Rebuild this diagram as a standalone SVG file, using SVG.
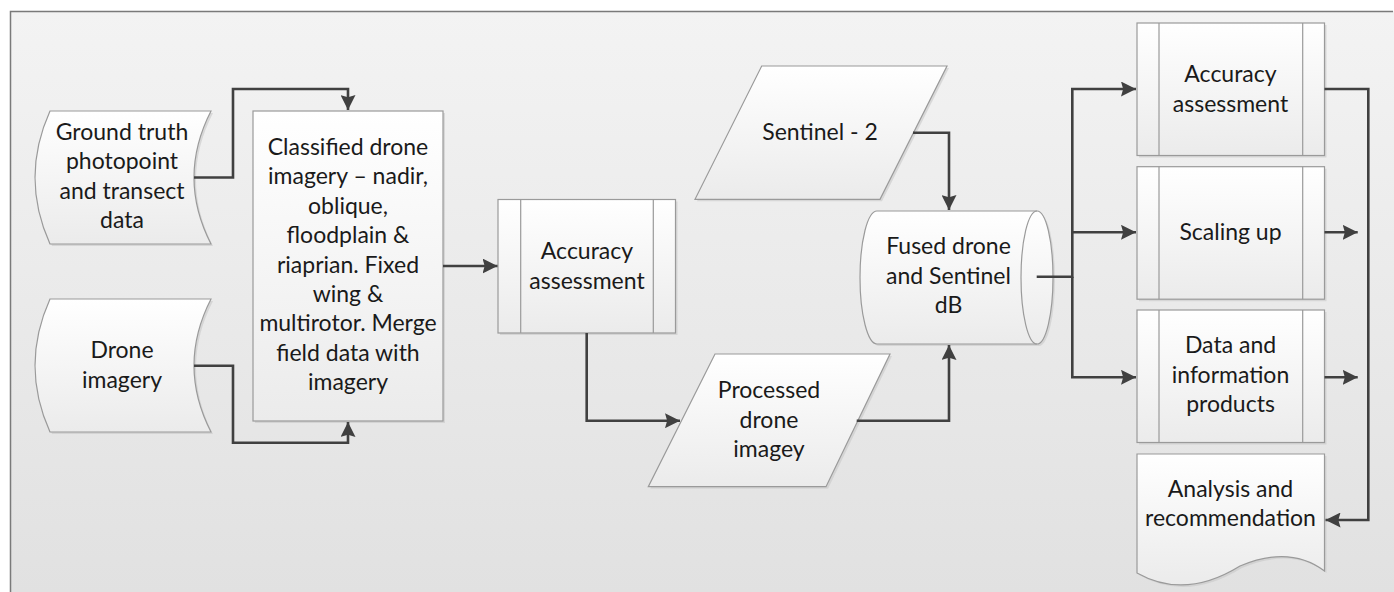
<svg xmlns="http://www.w3.org/2000/svg" width="1394" height="592" viewBox="0 0 1394 592">
<defs>
<linearGradient id="bg" x1="0" y1="0" x2="0" y2="1">
<stop offset="0" stop-color="#f3f3f3"/>
<stop offset="1" stop-color="#e1e1e1"/>
</linearGradient>
<linearGradient id="sf" x1="0" y1="0" x2="0" y2="1">
<stop offset="0" stop-color="#ffffff"/>
<stop offset="1" stop-color="#ebebeb"/>
</linearGradient>
<marker id="ah" viewBox="0 0 14 14" refX="14" refY="7" markerWidth="15" markerHeight="15" markerUnits="userSpaceOnUse" orient="auto">
<path d="M0,0 L14,7 L0,14 L2,7 Z" fill="#404040"/>
</marker>
</defs>
<style>
.shape{fill:url(#sf);stroke:#9a9a9a;stroke-width:1.2}
.shadow{fill:#c8c8c8;opacity:0.6}
.inner{fill:none;stroke:#9a9a9a;stroke-width:1.2}
.lbl{font-family:Lato,"Liberation Sans",sans-serif;font-size:23px;fill:#1a1a1a;text-anchor:middle}
.conn{fill:none;stroke:#404040;stroke-width:2.6;marker-end:url(#ah)}
</style>
<rect x="0" y="0" width="1394" height="592" fill="#ffffff"/>
<rect x="10" y="11" width="1384" height="581" fill="url(#bg)"/>
<path d="M10.5,592 V11.5 H1393" fill="none" stroke="#7a7a7a" stroke-width="1.5"/>

<g id="ground-truth">
<path class="shadow" d="M52,113 L213,113 Q179,179.5 213,246 L52,246 Q22,179.5 52,113 Z"/>
<path class="shape" d="M50,111 L211,111 Q177,177.5 211,244 L50,244 Q20,177.5 50,111 Z"/>
<text class="lbl" x="122" y="140">Ground truth</text>
<text class="lbl" x="122" y="169.4">photopoint</text>
<text class="lbl" x="122" y="198.8">and transect</text>
<text class="lbl" x="122" y="228.2">data</text>
</g>

<g id="drone-imagery">
<path class="shadow" d="M52,301 L213,301 Q179,367.5 213,434 L52,434 Q22,367.5 52,301 Z"/>
<path class="shape" d="M50,299 L211,299 Q177,365.5 211,432 L50,432 Q20,365.5 50,299 Z"/>
<text class="lbl" x="122" y="358">Drone</text>
<text class="lbl" x="122" y="387.5">imagery</text>
</g>

<g id="classified">
<rect class="shadow" x="255" y="113" width="190" height="310"/>
<rect class="shape" x="253" y="111" width="190" height="310"/>
<text class="lbl" x="348" y="155">Classified drone</text>
<text class="lbl" x="348" y="184.4">imagery – nadir,</text>
<text class="lbl" x="348" y="213.8">oblique,</text>
<text class="lbl" x="348" y="243.2">floodplain &amp;</text>
<text class="lbl" x="348" y="272.6">riaprian. Fixed</text>
<text class="lbl" x="348" y="302">wing &amp;</text>
<text class="lbl" x="348" y="331.4">multirotor. Merge</text>
<text class="lbl" x="348" y="360.8">field data with</text>
<text class="lbl" x="348" y="390.2">imagery</text>
</g>

<g id="accuracy-1">
<rect class="shadow" x="500" y="201.5" width="177.5" height="133.5"/>
<rect class="shape" x="498" y="199.5" width="177.5" height="133.5"/>
<path class="inner" d="M520.7,199.5 V333 M653.3,199.5 V333"/>
<text class="lbl" x="587" y="259.3">Accuracy</text>
<text class="lbl" x="587" y="288.7">assessment</text>
</g>

<g id="sentinel">
<path class="shadow" d="M763.7,68 L949,68 L882,201.3 L697,201.3 Z"/>
<path class="shape" d="M761.7,66 L947,66 L880,199.3 L695,199.3 Z"/>
<text class="lbl" x="820" y="140">Sentinel - 2</text>
</g>

<g id="processed">
<path class="shadow" d="M717,356 L892,356 L828,488.7 L650.3,488.7 Z"/>
<path class="shape" d="M715,354 L890,354 L826,486.7 L648.3,486.7 Z"/>
<text class="lbl" x="769" y="398.3">Processed</text>
<text class="lbl" x="769" y="427.7">drone</text>
<text class="lbl" x="769" y="457">imagey</text>
</g>

<g id="fused">
<path class="shadow" d="M879,213 L1039,213 A16,66.5 0 0 1 1039,346 L879,346 A17,66.5 0 0 1 879,213 Z"/>
<path class="shape" d="M877,211 L1037,211 A16,66.5 0 0 1 1037,344 L877,344 A17,66.5 0 0 1 877,211 Z"/>
<path class="inner" d="M1037,211 A16,66.5 0 0 0 1037,344"/>
<text class="lbl" x="948.5" y="254">Fused drone</text>
<text class="lbl" x="948.5" y="283.5">and Sentinel</text>
<text class="lbl" x="948.5" y="313">dB</text>
</g>

<g id="accuracy-2">
<rect class="shadow" x="1139" y="25" width="187.5" height="132.5"/>
<rect class="shape" x="1137" y="23" width="187.5" height="132.5"/>
<path class="inner" d="M1159,23 V155.5 M1302.7,23 V155.5"/>
<text class="lbl" x="1230.5" y="82.3">Accuracy</text>
<text class="lbl" x="1230.5" y="111.7">assessment</text>
</g>

<g id="scaling-up">
<rect class="shadow" x="1139" y="168.7" width="187.5" height="132.5"/>
<rect class="shape" x="1137" y="166.7" width="187.5" height="132.5"/>
<path class="inner" d="M1159,166.7 V299.2 M1302.7,166.7 V299.2"/>
<text class="lbl" x="1230.5" y="240">Scaling up</text>
</g>

<g id="data-products">
<rect class="shadow" x="1139" y="312" width="187.5" height="132.5"/>
<rect class="shape" x="1137" y="310" width="187.5" height="132.5"/>
<path class="inner" d="M1159,310 V442.5 M1302.7,310 V442.5"/>
<text class="lbl" x="1230.5" y="353.3">Data and</text>
<text class="lbl" x="1230.5" y="382.7">information</text>
<text class="lbl" x="1230.5" y="412">products</text>
</g>

<g id="analysis">
<path class="shadow" d="M1139,456 H1326.5 V573 Q1292,547 1242,568 Q1187,602 1139,575 Z"/>
<path class="shape" d="M1137,454 H1324.5 V571 Q1290,545 1240,566 Q1185,600 1137,573 Z"/>
<text class="lbl" x="1230.5" y="496.7">Analysis and</text>
<text class="lbl" x="1230.5" y="526">recommendation</text>
</g>

<g id="connectors">
<path class="conn" d="M194,177.5 H233 V89 H348 V110"/>
<path class="conn" d="M194,365.7 H233 V442.7 H348 V422"/>
<path class="conn" d="M443,266 H497.5"/>
<path class="conn" d="M586.7,333 V420.7 H680"/>
<path class="conn" d="M856.7,420.7 H949 V345"/>
<path class="conn" d="M913,132.7 H949 V210"/>
<path class="conn" d="M1036.7,276.7 H1072.3 V89 H1136"/>
<path class="conn" d="M1072.3,232.3 H1136"/>
<path class="conn" d="M1072.3,276.7 V377.3 H1136"/>
<path class="conn" d="M1324.5,89 H1368.3 V520 H1325.5"/>
<path class="conn" d="M1324.5,232.3 H1357.7"/>
<path class="conn" d="M1324.5,377.3 H1357.7"/>
</g>
</svg>
